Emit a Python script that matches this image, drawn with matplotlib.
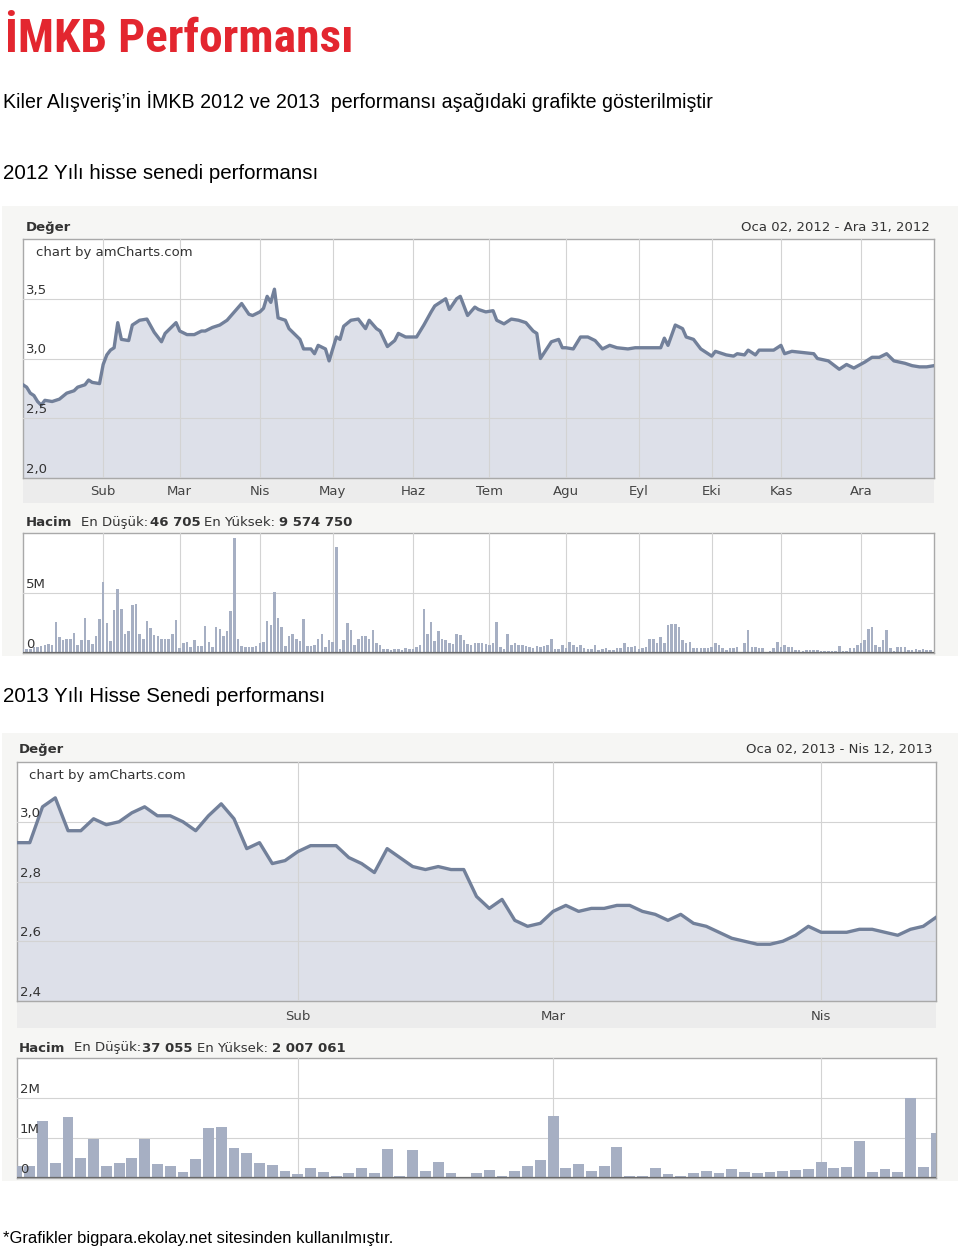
import matplotlib
matplotlib.use('Agg')
import matplotlib.pyplot as plt
from matplotlib.patches import Rectangle
from matplotlib.transforms import blended_transform_factory

# ---- data ----
months_2012 = ['Sub', 'Mar', 'Nis', 'May', 'Haz', 'Tem', 'Agu', 'Eyl', 'Eki', 'Kas', 'Ara']
month_start_2012 = [22, 43, 65, 85, 107, 128, 149, 169, 189, 208, 230]
n_days_2012 = 250

price_days_2012 = [0, 1, 2, 3, 4, 5, 6, 8, 10, 12, 14, 15, 17, 18, 19, 21, 22, 23, 24, 25,
                   26, 27, 29, 30, 32, 34, 36, 38, 39, 42, 43, 45, 47, 49, 50, 52, 54, 56, 58, 60,
                   62, 63, 65, 66, 67, 68, 69, 70, 72, 73, 75, 76, 77, 79, 80, 81, 83, 84, 86, 87,
                   88, 90, 92, 94, 95, 97, 98, 100, 102, 103, 105, 108, 110, 112, 113, 116, 117, 119, 120, 122,
                   124, 125, 127, 129, 130, 132, 134, 136, 138, 140, 141, 142, 145, 147, 148, 149, 151, 153, 155, 157,
                   159, 161, 163, 166, 168, 170, 173, 175, 176, 177, 179, 181, 182, 184, 186, 189, 190, 193, 195, 196,
                   198, 199, 201, 202, 206, 208, 209, 211, 214, 217, 218, 221, 224, 226, 228, 231, 233, 235, 237, 239,
                   242, 244, 246, 248, 250]
price_2012 = [2.78, 2.76, 2.71, 2.69, 2.64, 2.61, 2.65, 2.64, 2.66, 2.71, 2.73, 2.76, 2.78, 2.82, 2.80, 2.79, 2.95, 3.03, 3.07, 3.09,
              3.30, 3.16, 3.15, 3.28, 3.32, 3.33, 3.22, 3.14, 3.21, 3.30, 3.23, 3.20, 3.20, 3.23, 3.23, 3.26, 3.28, 3.32, 3.39, 3.46,
              3.37, 3.36, 3.39, 3.42, 3.52, 3.47, 3.58, 3.34, 3.32, 3.25, 3.19, 3.16, 3.08, 3.08, 3.04, 3.11, 3.08, 2.98, 3.18, 3.16,
              3.27, 3.32, 3.33, 3.25, 3.32, 3.25, 3.23, 3.10, 3.15, 3.21, 3.18, 3.18, 3.28, 3.39, 3.44, 3.50, 3.41, 3.50, 3.52, 3.36,
              3.43, 3.41, 3.39, 3.40, 3.32, 3.29, 3.33, 3.32, 3.30, 3.23, 3.21, 3.00, 3.14, 3.16, 3.09, 3.09, 3.08, 3.18, 3.18, 3.15,
              3.08, 3.11, 3.09, 3.08, 3.09, 3.09, 3.09, 3.09, 3.17, 3.11, 3.28, 3.25, 3.18, 3.16, 3.08, 3.02, 3.06, 3.03, 3.02, 3.04,
              3.03, 3.07, 3.03, 3.07, 3.07, 3.11, 3.04, 3.06, 3.05, 3.04, 3.00, 2.98, 2.91, 2.95, 2.92, 2.97, 3.01, 3.01, 3.04, 2.98,
              2.96, 2.94, 2.93, 2.93, 2.94]

# daily volume, millions of shares
volume_2012 = [0.35, 0.3, 0.35, 0.5, 0.5, 0.6, 0.7, 0.75, 0.7, 2.6, 1.3, 1.1, 1.15, 1.15, 1.7, 0.7, 1.1, 2.9, 1.1, 0.75,
               1.4, 2.8, 5.9, 2.5, 1.0, 3.6, 5.3, 3.7, 1.6, 1.8, 4.0, 4.1, 1.6, 1.2, 2.7, 2.1, 1.5, 1.4, 1.2, 1.2,
               1.2, 1.6, 2.75, 0.4, 0.8, 0.95, 0.5, 1.1, 0.6, 0.6, 2.25, 0.95, 0.5, 2.2, 2.0, 1.4, 1.8, 3.5, 9.57, 1.2,
               0.6, 0.5, 0.5, 0.5, 0.6, 0.8, 0.95, 2.7, 2.3, 5.1, 2.9, 2.2, 0.6, 1.4, 1.6, 1.2, 1.0, 2.8, 0.6, 0.6,
               0.7, 1.2, 1.6, 0.5, 1.1, 0.95, 8.8, 0.3, 1.1, 2.5, 1.9, 0.7, 1.2, 1.4, 1.4, 1.2, 1.9, 0.8, 0.7, 0.3,
               0.35, 0.25, 0.35, 0.35, 0.25, 0.45, 0.3, 0.3, 0.5, 0.7, 3.7, 1.6, 2.6, 1.0, 1.8, 1.2, 1.1, 0.8, 0.75, 1.6,
               1.5, 1.1, 0.75, 0.7, 0.8,
               0.8, 0.8, 0.75, 0.7, 0.8, 2.55, 0.5, 0.35, 1.55, 0.65, 0.85, 0.65, 0.65, 0.6, 0.5, 0.4, 0.6, 0.5, 0.6, 0.65,
               1.2, 0.35, 0.35, 0.65, 0.4, 0.9, 0.7, 0.5, 0.7, 0.4, 0.3, 0.3, 0.7, 0.25, 0.35, 0.4, 0.25, 0.25, 0.45, 0.4,
               0.85, 0.5, 0.5, 0.6, 0.35, 0.45, 0.5, 1.2, 1.15, 0.8, 1.35, 0.8, 2.3, 2.4, 2.4, 2.2, 1.1, 0.85, 0.95, 0.45,
               0.45, 0.45, 0.4, 0.45, 0.5, 0.8, 0.65, 0.4, 0.25, 0.45, 0.4, 0.5, 0.1, 0.8, 1.9, 0.5, 0.5, 0.45, 0.4, 0.1,
               0.15, 0.4, 0.95, 0.5, 0.7, 0.5, 0.5, 0.25, 0.25, 0.15, 0.25, 0.25, 0.25, 0.25, 0.2, 0.15, 0.2, 0.2, 0.2, 0.6,
               0.2, 0.2, 0.4, 0.45, 0.7, 0.8, 1.1, 2.0, 2.2, 0.65, 0.5, 1.1, 1.9, 0.45, 0.15, 0.5, 0.5, 0.5, 0.25, 0.25,
               0.3, 0.25, 0.3, 0.25, 0.25]

months_2013 = ['Sub', 'Mar', 'Nis']
month_start_2013 = [22, 42, 63]
price_2013 = [2.93, 2.93, 3.05, 3.08, 2.97, 2.97, 3.01, 2.99, 3.00, 3.03, 3.05, 3.02, 3.02, 3.00, 2.97, 3.02, 3.06, 3.01, 2.91, 2.93,
              2.86, 2.87, 2.90, 2.92, 2.92, 2.92, 2.88, 2.86, 2.83, 2.91, 2.88, 2.85, 2.84, 2.85, 2.84, 2.84, 2.75, 2.71, 2.74, 2.67,
              2.65, 2.66, 2.70, 2.72, 2.70, 2.71, 2.71, 2.72, 2.72, 2.70, 2.69, 2.67, 2.69, 2.66, 2.65, 2.63, 2.61, 2.60, 2.59, 2.59,
              2.60, 2.62, 2.65, 2.63, 2.63, 2.63, 2.64, 2.64, 2.63, 2.62, 2.64, 2.65, 2.68]
volume_2013 = [0.3, 0.3, 1.43, 0.37, 1.52, 0.51, 0.97, 0.3, 0.38, 0.51, 0.97, 0.35, 0.3, 0.16, 0.47, 1.26, 1.28, 0.76, 0.62, 0.38,
               0.33, 0.18, 0.09, 0.24, 0.16, 0.06, 0.13, 0.24, 0.13, 0.72, 0.06, 0.7, 0.18, 0.41, 0.13, 0.037, 0.13, 0.2, 0.06, 0.18,
               0.3, 0.45, 1.56, 0.26, 0.35, 0.18, 0.31, 0.77, 0.06, 0.06, 0.24, 0.09, 0.06, 0.13, 0.18, 0.13, 0.22, 0.16, 0.12, 0.16,
               0.18, 0.2, 0.22, 0.39, 0.24, 0.28, 0.93, 0.14, 0.22, 0.16, 2.007, 0.27, 1.13]

price_ticks_2012 = [2.0, 2.5, 3.0, 3.5]
price_ticks_2013 = [2.4, 2.6, 2.8, 3.0]
vol_ticks_2012 = [0, 5]
vol_ticks_2013 = [0, 1, 2]

# ---- style ----
LINE = '#72809a'
FILL = '#dde0e9'
BAR = '#a6afc3'
GRID = '#d3d3d3'
BORDER = '#a9a9a9'
TXT = '#333333'
PANEL = '#f6f6f4'
BAND = '#ececec'
CF = 'DejaVu Sans'
CS = 9.5

W, H = 960, 1247
fig = plt.figure(figsize=(W / 100, H / 100), dpi=100)
R = fig.canvas.get_renderer()


def fx(x):
    return x / W


def fy(y):
    return 1 - y / H


def add_ax(x0, y0, x1, y1):
    return fig.add_axes([fx(x0), fy(y1), (x1 - x0) / W, (y1 - y0) / H])


def rect(x0, y0, x1, y1, color):
    fig.patches.append(Rectangle((fx(x0), fy(y1)), (x1 - x0) / W, (y1 - y0) / H,
                                 transform=fig.transFigure, facecolor=color,
                                 edgecolor='none', zorder=-5))


def fit(x, y, s, width, **kw):
    t = fig.text(fx(x), fy(y), s, fontsize=10, **kw)
    w = t.get_window_extent(renderer=R).width
    t.set_fontsize(10 * width / w)
    return t


def ctext(x, y, s, **kw):
    kw.setdefault('color', TXT)
    kw.setdefault('family', CF)
    kw.setdefault('fontsize', CS)
    kw.setdefault('va', 'center')
    return fig.text(fx(x), fy(y), s, **kw)


def rich(x, y, parts):
    for s, bold, gap in parts:
        t = ctext(x, y, s, fontweight='bold' if bold else 'normal')
        x += t.get_window_extent(renderer=R).width + gap


def style_ax(ax, month_pos, yticks):
    ax.set_xticks(month_pos)
    ax.set_yticks(yticks)
    ax.tick_params(length=0, labelbottom=False, labelleft=False)
    ax.grid(color=GRID, lw=0.8)
    ax.set_axisbelow(False)
    for s in ax.spines.values():
        s.set_color(BORDER)
        s.set_linewidth(1.0)


def ylabels(ax, ticks, fmt):
    tr = blended_transform_factory(ax.transAxes, ax.transData)
    for v in ticks:
        ax.annotate(fmt(v), xy=(0, v), xycoords=tr, xytext=(3, 2), textcoords='offset pixels',
                    ha='left', va='bottom', color=TXT, family=CF, fontsize=CS)


def price_chart(box, days, vals, xmax, ylim, yticks, month_pos):
    ax = add_ax(*box)
    ax.fill_between(days, vals, ylim[0], color=FILL, lw=0, zorder=1)
    ax.plot(days, vals, color=LINE, lw=2.4, zorder=3, solid_joinstyle='round')
    ax.set_xlim(0, xmax)
    ax.set_ylim(*ylim)
    style_ax(ax, month_pos, yticks)
    ylabels(ax, yticks, lambda v: f'{v:.1f}'.replace('.', ','))
    return ax


def volume_chart(box, vols, xmax, ymax, yticks, month_pos, width):
    ax = add_ax(*box)
    ax.bar(range(len(vols)), vols, width=width, color=BAR, lw=0, zorder=3)
    ax.set_xlim(0, xmax)
    ax.set_ylim(0, ymax)
    style_ax(ax, month_pos, yticks)
    ax.axhline(0, color='#6a6a6a', lw=1.6, zorder=4)
    ylabels(ax, yticks, lambda v: f'{v}M' if v else '0')
    return ax


# ---- page text ----
fit(5, 52, 'İMKB Performansı', 347, color='#e3262f', fontweight='bold',
    family=['Roboto Condensed', 'Liberation Sans'], va='baseline')
fit(3, 108, 'Kiler Alışveriş’in İMKB 2012 ve 2013  performansı aşağıdaki grafikte gösterilmiştir', 712,
    family='Liberation Sans', va='baseline', color='black')
fit(3, 179, '2012 Yılı hisse senedi performansı', 318, family='Liberation Sans', va='baseline', color='black')
fit(3, 702, '2013 Yılı Hisse Senedi performansı', 324, family='Liberation Sans', va='baseline', color='black')
fit(3, 1243, '*Grafikler bigpara.ekolay.net sitesinden kullanılmıştır.', 389,
    family='Liberation Sans', va='baseline', color='black')

# ---- 2012 screenshot ----
rect(2, 206, 958, 656, PANEL)
rect(23, 478, 934, 503, BAND)
ctext(26, 228, 'Değer', fontweight='bold')
ctext(930, 228, 'Oca 02, 2012 - Ara 31, 2012', ha='right')
price_chart((23, 239, 934, 478), price_days_2012, price_2012, n_days_2012,
            (2.0, 4.0), price_ticks_2012, month_start_2012)
ctext(36, 252, 'chart by amCharts.com', zorder=5)
for m, name in zip(month_start_2012, months_2012):
    ctext(23 + m * 911 / n_days_2012, 491, name, ha='center', color='#444444')
rich(26, 522, [('Hacim', True, 9), ('En Düşük:', False, 1), ('46 705', True, 4),
               ('En Yüksek:', False, 4), ('9 574 750', True, 0)])
volume_chart((23, 533, 934, 653), volume_2012, n_days_2012, 10, vol_ticks_2012, month_start_2012, 0.7)

# ---- 2013 screenshot ----
n_days_2013 = len(price_2013) - 1
rect(2, 733, 958, 1181, PANEL)
rect(17, 1001, 936, 1028, BAND)
ctext(19, 750, 'Değer', fontweight='bold')
ctext(933, 750, 'Oca 02, 2013 - Nis 12, 2013', ha='right')
price_chart((17, 762, 936, 1001), range(len(price_2013)), price_2013, n_days_2013,
            (2.4, 3.2), price_ticks_2013, month_start_2013)
ctext(29, 775, 'chart by amCharts.com', zorder=5)
for m, name in zip(month_start_2013, months_2013):
    ctext(17 + m * 919 / n_days_2013, 1017, name, ha='center', color='#444444')
rich(19, 1048, [('Hacim', True, 9), ('En Düşük:', False, 1), ('37 055', True, 4),
                ('En Yüksek:', False, 4), ('2 007 061', True, 0)])
volume_chart((17, 1058, 936, 1178), volume_2013, n_days_2013, 3, vol_ticks_2013, month_start_2013, 0.85)

fig.savefig('out.png', dpi=100, facecolor='white')
